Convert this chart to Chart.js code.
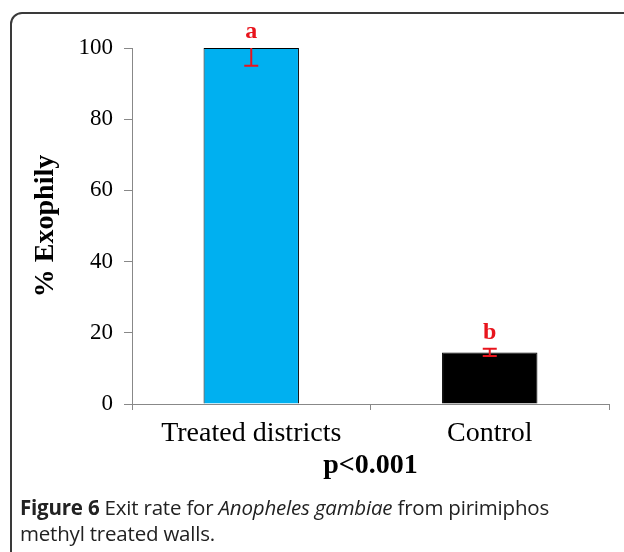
<!DOCTYPE html>
<html>
<head>
<meta charset="utf-8">
<script src="https://cdn.jsdelivr.net/npm/chart.js@4.4.1/dist/chart.umd.min.js"></script>
<style>
  html, body { margin: 0; padding: 0; background: #fff; overflow: hidden; }
  #wrap { position: relative; width: 624px; height: 552px; }
  #frame {
    position: absolute; left: 10px; top: 12px; width: 680px; height: 640px;
    border: 2px solid #3a3a3a; border-radius: 12px; box-sizing: border-box;
  }
  #chartBox { position: absolute; left: 0; top: 0; width: 624px; height: 552px; }
  #caption {
    position: absolute; left: 20px; top: 494px; width: 560px;
    font-family: "Open Sans", sans-serif; font-size: 20.5px; line-height: 26px; color: #222;
    letter-spacing: -0.2px;
  }
</style>
</head>
<body>
<div id="wrap">
  <div id="frame"></div>
  <div id="chartBox"><canvas id="chartCanvas"></canvas></div>
  <div id="caption"><b>Figure 6</b> Exit rate for <i>Anopheles gambiae</i> from pirimiphos methyl treated walls.</div>
</div>
<script>
const categories = ["Treated districts", "Control"];
const exophily = [100, 14.5];
const errors = [5, 1];
const sigLetters = ["a", "b"];
const barColors = ["#00B0F0", "#000000"];
const yTicks = [0, 20, 40, 60, 80, 100];

// error bars + significance letters
const errorBars = {
    id: "errorBars",
    afterDatasetsDraw(chart) {
        const ctx = chart.ctx;
        const y = chart.scales.y;
        const meta = chart.getDatasetMeta(0);
        ctx.save();
        meta.data.forEach((bar, i) => {
            const v = exophily[i];
            const hi = v + errors[i];
            const lo = v - errors[i];
            const yLo = y.getPixelForValue(lo);
            const yHi = y.getPixelForValue(Math.min(hi, y.max));
            ctx.strokeStyle = "#e8141c";
            ctx.lineWidth = 2;
            ctx.beginPath();
            ctx.moveTo(bar.x, yHi);
            ctx.lineTo(bar.x, yLo);
            ctx.moveTo(bar.x - 7, yLo);
            ctx.lineTo(bar.x + 7, yLo);
            if (hi <= y.max) {
                ctx.moveTo(bar.x - 7, yHi);
                ctx.lineTo(bar.x + 7, yHi);
            }
            ctx.stroke();

            ctx.fillStyle = "#e8141c";
            ctx.font = "bold 24px 'Liberation Serif'";
            ctx.textAlign = "center";
            ctx.textBaseline = "alphabetic";
            ctx.fillText(sigLetters[i], bar.x, y.getPixelForValue(Math.min(hi, y.max)) - 10);
        });
        ctx.restore();
    }
};

new Chart(document.getElementById("chartCanvas"), {
    type: "bar",
    data: {
        labels: categories,
        datasets: [{
            data: exophily,
            backgroundColor: barColors,
            borderColor: "#000",
            borderWidth: 1,
            barPercentage: 0.4,
            categoryPercentage: 1
        }]
    },
    options: {
        responsive: true,
        maintainAspectRatio: false,
        animation: false,
        layout: { padding: { top: 48, right: 15, left: 0, bottom: 0 } },
        plugins: { legend: { display: false }, tooltip: { enabled: false } },
        scales: {
            x: {
                grid: { drawOnChartArea: false, offset: true, tickLength: 6, color: "#888" },
                border: { color: "#888" },
                ticks: { color: "#000", padding: 7, font: { family: "Liberation Serif", size: 28 } },
                title: {
                    display: true, text: "p<0.001", color: "#000",
                    font: { family: "Liberation Serif", size: 28, weight: "bold" },
                    padding: { top: 0, bottom: 69 }
                },
                afterFit: (s) => { s.height = 148; }
            },
            y: {
                min: 0, max: 100,
                afterBuildTicks: (s) => { s.ticks = yTicks.map(v => ({ value: v })); },
                grid: { drawOnChartArea: false, tickLength: 8, color: "#888" },
                border: { color: "#888" },
                ticks: { color: "#000", padding: 11, font: { family: "Liberation Serif", size: 23 } },
                title: {
                    display: true, text: "% Exophily", color: "#000",
                    font: { family: "Liberation Serif", size: 28, weight: "bold" },
                    padding: { top: 29, bottom: 0 }
                },
                afterFit: (s) => { s.width = 132; }
            }
        }
    },
    plugins: [errorBars]
});
</script>
</body>
</html>
